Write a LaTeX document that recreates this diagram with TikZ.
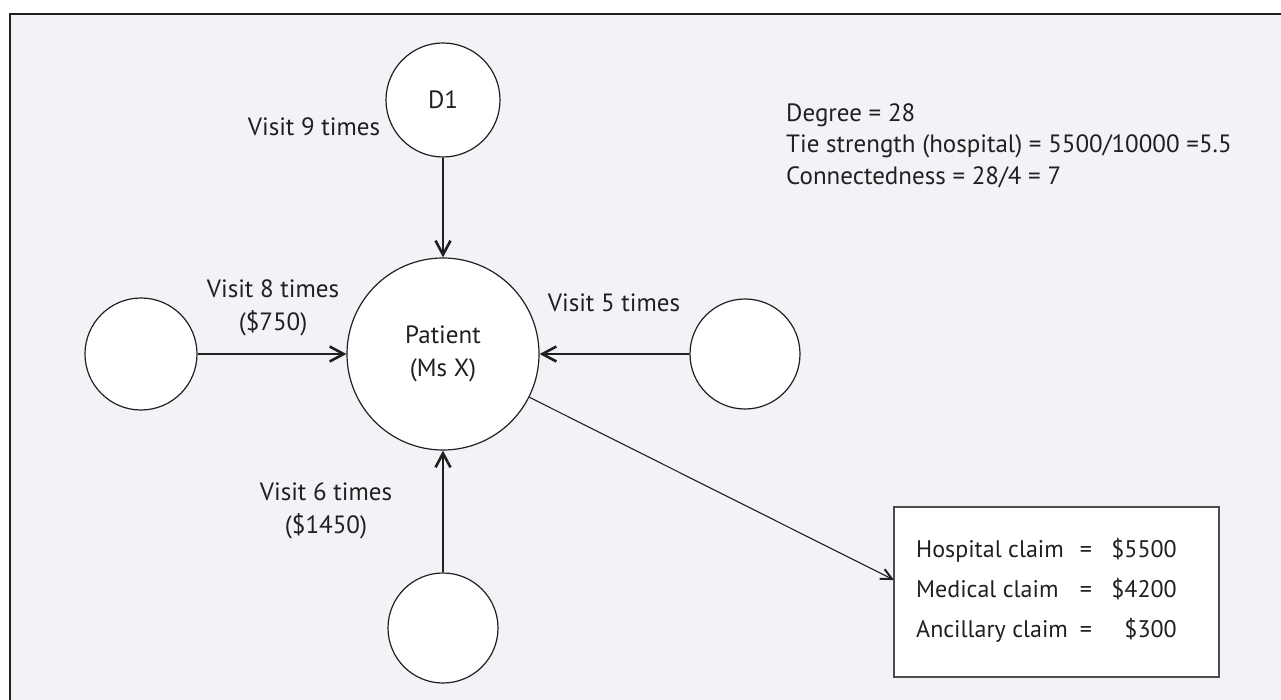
\documentclass[tikz,border=0pt]{standalone}
\usepackage{fontspec}
\setmainfont{PT Sans}
\usetikzlibrary{arrows.meta}
\definecolor{ink}{HTML}{231F20}
\definecolor{panel}{HTML}{F2F3F7}
\definecolor{boxline}{HTML}{4D4D4F}
\begin{document}
\begin{tikzpicture}[x=1pt,y=-1pt,
  font=\fontsize{25}{33}\selectfont, text=ink,
  circ/.style={circle,draw=ink,fill=white,line width=1.2pt,inner sep=0pt,align=center},
  lbl/.style={inner sep=0pt,align=center},
  txt/.style={inner sep=0pt,anchor=base west},
  boxtxt/.style={inner sep=0pt,font=\fontsize{24}{30}\selectfont},
  thickarrow/.style={draw=ink,line width=2.6pt,-{Straight Barb[length=14pt,width=15pt]}},
  thinarrow/.style={draw=ink,line width=1.1pt,-{Straight Barb[length=11pt,width=11pt,line width=2pt]}}]
\useasboundingbox (0,0) rectangle (1281,700);
\fill[white] (0,0) rectangle (1281,700);
\fill[panel] (10,14) rectangle (1281,700);
\draw[ink,line width=1.6pt] (10,700) -- (10,14) -- (1281,14);

\node[circ,minimum size=192pt] (P) at (443,354) {Patient\\(Ms X)};
\node[circ,minimum size=114pt] (D1) at (443,100) {D1};
\node[circ,minimum size=112pt] (L) at (141,354) {};
\node[circ,minimum size=110pt] (R) at (745,354) {};
\node[circ,minimum size=110pt] (B) at (443,628) {};

\draw[thickarrow] (D1) -- (P);
\draw[thickarrow] (L) -- (P);
\draw[thickarrow] (R) -- (P);
\draw[thickarrow] (B) -- (P);

\node[lbl] (v9) at (314,127) {Visit 9 times};
\node[lbl] (v8) at (273,308) {Visit 8 times\\(\$750)};
\node[lbl] (v5) at (614,303) {Visit 5 times};
\node[lbl] (v6) at (326,511) {Visit 6 times\\(\$1450)};

\node[txt] (deg) at (786,122) {Degree = 28};
\node[txt] (tie) at (786,153) {Tie strength (hospital) = 5500/10000 =5.5};
\node[txt] (con) at (786,185) {Connectedness = 28/4 = 7};

\node[draw=boxline,fill=white,line width=1.5pt,minimum width=325pt,minimum height=170pt,anchor=north west,inner sep=0pt] (box) at (893,506) {};
\coordinate (bx) at (894,580);
\draw[thinarrow] (P) -- (bx);

\node[boxtxt,anchor=base west] (h1) at (916,557) {Hospital claim};
\node[boxtxt,anchor=base] (h2) at (1086,557) {=};
\node[boxtxt,anchor=base east] (h3) at (1177,557) {\$5500};
\node[boxtxt,anchor=base west] (m1) at (916,597) {Medical claim};
\node[boxtxt,anchor=base] (m2) at (1086,597) {=};
\node[boxtxt,anchor=base east] (m3) at (1177,597) {\$4200};
\node[boxtxt,anchor=base west] (a1) at (916,637) {Ancillary claim};
\node[boxtxt,anchor=base] (a2) at (1086,637) {=};
\node[boxtxt,anchor=base east] (a3) at (1177,637) {\$300};
\end{tikzpicture}
\end{document}
